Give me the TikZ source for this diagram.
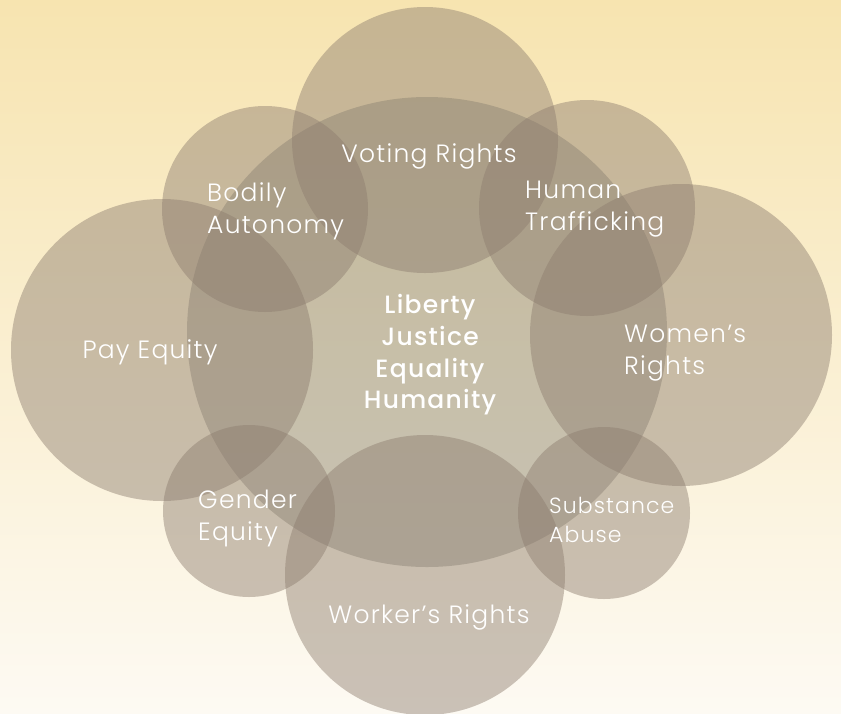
\documentclass[tikz,border=0pt]{standalone}
\usepackage{fontspec}
\setmainfont{Poppins}[UprightFont=* Light, BoldFont=* Medium, LetterSpace=5]
\usetikzlibrary{shapes.geometric}
\definecolor{bgtop}{RGB}{247,228,176}
\definecolor{bgbot}{RGB}{253,250,243}
\definecolor{bub}{RGB}{140,124,110}
\definecolor{hubc}{RGB}{123,119,107}
\begin{document}
\begin{tikzpicture}[x=1pt,y=-1pt,
  bubble/.style={circle, fill=bub, fill opacity=0.45, inner sep=0pt, minimum size=#1},
  lab/.style={text=white, font=\fontsize{25}{32}\selectfont, align=left, anchor=base west, inner sep=0pt},
  labc/.style={text=white, font=\fontsize{25}{32}\selectfont, anchor=base, inner sep=0pt},
  hubtext/.style={text=white, font=\bfseries\fontsize{25}{32}\selectfont, anchor=base, inner sep=0pt}]
\useasboundingbox (0,0) rectangle (841,713);
\shade[top color=bgtop, bottom color=bgbot] (0,0) rectangle (841,713);
% circles
\node[ellipse, fill=hubc, fill opacity=0.4, inner sep=0pt, minimum width=480pt, minimum height=470pt] (hub) at (427,332) {};
\node[bubble=266pt] (vote) at (425,140) {};
\node[bubble=206pt] (body) at (265,209) {};
\node[bubble=216pt] (traf) at (587,208) {};
\node[bubble=302pt] (pay) at (162,350) {};
\node[bubble=302pt] (women) at (681,335) {};
\node[bubble=172pt] (gender) at (249,511) {};
\node[bubble=172pt] (subst) at (604,513) {};
\node[bubble=280pt] (work) at (425,575) {};
% labels
\node[labc] (tvote) at (429,162) {Voting Rights};
\node[lab] (tbody1) at (207,201) {Bodily};
\node[lab] (tbody2) at (207,233) {Autonomy};
\node[lab] (ttraf1) at (525,198) {Human};
\node[lab] (ttraf2) at (525,230) {Trafficking};
\node[labc] (tpay) at (150,358) {Pay Equity};
\node[lab] (twom1) at (624,342) {Women’s};
\node[lab] (twom2) at (624,374) {Rights};
\node[lab] (tgen1) at (198,508) {Gender};
\node[lab] (tgen2) at (198,540) {Equity};
\node[lab, font=\fontsize{22}{29}\selectfont] (tsub1) at (549,513) {Substance};
\node[lab, font=\fontsize{22}{29}\selectfont] (tsub2) at (549,542) {Abuse};
\node[labc] (twork) at (429,623) {Worker’s Rights};
\node[hubtext] (h1) at (430,313) {Liberty};
\node[hubtext] (h2) at (430,345) {Justice};
\node[hubtext] (h3) at (430,377) {Equality};
\node[hubtext] (h4) at (430,408) {Humanity};
\end{tikzpicture}
\end{document}
